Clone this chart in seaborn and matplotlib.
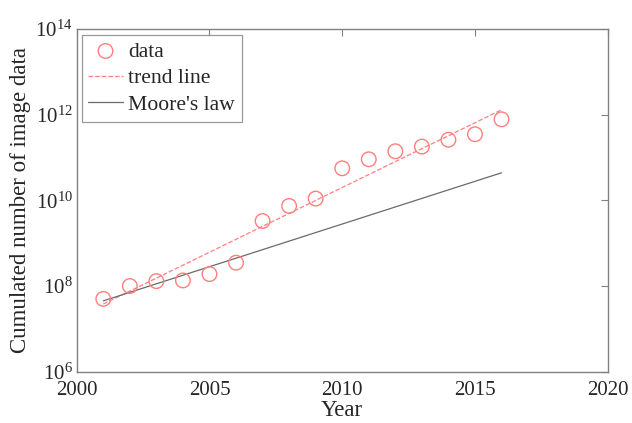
import numpy as np
import pandas as pd
import seaborn as sns
import matplotlib.pyplot as plt
from matplotlib.ticker import NullLocator, FixedLocator

# Data
years = [2001, 2002, 2003, 2004, 2005, 2006, 2007, 2008,
         2009, 2010, 2011, 2012, 2013, 2014, 2015, 2016]
image_counts = [5.0e7, 1.0e8, 1.3e8, 1.35e8, 1.9e8, 3.5e8, 3.3e9, 7.4e9,
                1.1e10, 5.6e10, 9.1e10, 1.4e11, 1.8e11, 2.6e11, 3.5e11, 7.8e11]

trend_years = [2001, 2016]
trend_counts = [3.8e7, 1.3e12]

moore_years = [2001, 2016]
moore_counts = [4.5e7, 4.4e10]

x_ticks = [2000, 2005, 2010, 2015, 2020]
y_ticks = [1e6, 1e8, 1e10, 1e12, 1e14]

sns.set_style('white')
plt.rcParams['font.family'] = ['Liberation Serif', 'DejaVu Serif']
plt.rcParams['mathtext.fontset'] = 'custom'
plt.rcParams['mathtext.rm'] = 'Liberation Serif'
plt.rcParams['mathtext.it'] = 'Liberation Serif:italic'

df = pd.DataFrame({'year': years, 'count': image_counts})
trend = pd.DataFrame({'year': trend_years, 'count': trend_counts})
moore = pd.DataFrame({'year': moore_years, 'count': moore_counts})

fig = plt.figure(figsize=(6.32, 4.23), dpi=100)
ax = fig.add_axes([0.1214, 0.1213, 0.8402, 0.8101])

red = '#ff7f7f'
sns.scatterplot(data=df, x='year', y='count', ax=ax, marker='o', s=110,
                facecolors='none', edgecolor=red, linewidth=1.0, label='data', zorder=3)
sns.lineplot(data=trend, x='year', y='count', ax=ax, color=red, linestyle='--',
             linewidth=0.9, label='trend line')
sns.lineplot(data=moore, x='year', y='count', ax=ax, color='#6a6a6a', linewidth=0.9,
             label="Moore's law")

ax.set_yscale('log')
ax.set_xlim(2000, 2020)
ax.set_ylim(1e6, 1e14)
ax.xaxis.set_major_locator(FixedLocator(x_ticks))
ax.yaxis.set_major_locator(FixedLocator(y_ticks))
ax.yaxis.set_minor_locator(NullLocator())
ax.xaxis.set_minor_locator(NullLocator())
ax.tick_params(direction='in', length=5, width=0.8, color='#808080',
               top=True, right=True, labelsize=15)
ax.tick_params(axis='x', pad=7)
ax.tick_params(axis='y', pad=3)

for sp in ax.spines.values():
    sp.set_visible(True)
    sp.set_color('#808080')
    sp.set_linewidth(1.0)

ax.set_xlabel('Year', fontsize=16.5, labelpad=0)
ax.set_ylabel('Cumulated number of image data', fontsize=16.5, labelpad=3)

leg = ax.legend(loc='upper left', bbox_to_anchor=(0.0094, 0.9825), fontsize=15.6,
                frameon=True, fancybox=False, borderpad=0.3, handlelength=1.6,
                handletextpad=0.25, labelspacing=0.3, borderaxespad=0)
leg.get_frame().set_edgecolor('#808080')
leg.get_frame().set_linewidth(0.9)

fig.savefig('out.png', dpi=100)
